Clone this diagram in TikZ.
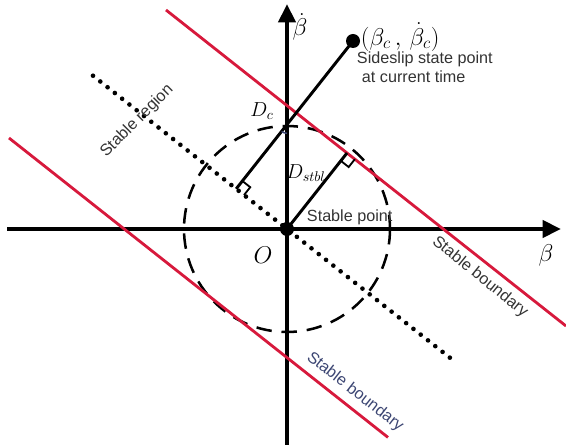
\documentclass[tikz,border=0pt]{standalone}
\usepackage{fontspec}
\setsansfont{Liberation Sans}
\usepackage{amsmath}
\usetikzlibrary{arrows.meta, calc}
\definecolor{bndred}{RGB}{215,25,60}
\definecolor{bndblue}{RGB}{60,70,115}

\begin{document}
\begin{tikzpicture}[x=0.025cm, y=-0.025cm,
  axis/.style={line width=2.8pt, -{Triangle[length=13pt,width=12pt]}},
  boundary/.style={bndred, line width=2pt},
  dist/.style={line width=2.1pt},
  rmark/.style={line width=1.3pt},
  lbl/.style={font=\sffamily\fontsize{11.5}{13}\selectfont, text=black!80},
  mlbl/.style={font=\LARGE}]

  \useasboundingbox (0,0) rectangle (566,445);

  \def\m{0.79}

  % Key points
  \coordinate (O) at (287,229);
  \coordinate (hL) at (7,229);
  \coordinate (hR) at (561,229);
  \coordinate (vB) at (287,445);
  \coordinate (vT) at (287,4);
  \coordinate (uA) at (166,10);
  \coordinate (uB) at (566,{10+400*\m});
  \coordinate (lA) at (9,138);
  \coordinate (lB) at (388,{138+379*\m});
  \coordinate (dA) at (93,{229-194*\m});
  \coordinate (dB) at (455,{229+168*\m});
  \coordinate (P) at (353,41);
  \coordinate (F1) at ($(dA)!(P)!(dB)$);
  \coordinate (F2) at ($(uA)!(O)!(uB)$);
  \coordinate (X) at (intersection of P--F1 and O--vT);

  % Stable region and circle
  \draw[line width=3.3pt, line cap=round, dash pattern=on 0pt off 6.6pt] (dA) -- (dB);
  \draw[line width=1.8pt, dash pattern=on 11pt off 7pt] (O) circle[radius=103];

  % Axes
  \draw[axis] (hL) -- (hR);
  \draw[axis] (vB) -- (vT);

  % Boundaries
  \draw[boundary] (uA) -- (uB);
  \draw[boundary] (lA) -- (lB);

  % Distances
  \draw[dist] (P) -- (F1);
  \draw[dist] (O) -- (F2);
  \fill (P) circle[radius=7];
  \fill (O) circle[radius=7];

  % Right angle marks
  \coordinate (a1) at ($(F1)!0.25cm!(P)$);
  \coordinate (b1) at ($(F1)!0.25cm!(dB)$);
  \draw[rmark] (a1) -- ($(a1)+(b1)-(F1)$) -- (b1);
  \coordinate (a2) at ($(F2)!0.25cm!(O)$);
  \coordinate (b2) at ($(F2)!0.25cm!(uB)$);
  \draw[rmark] (a2) -- ($(a2)+(b2)-(F2)$) -- (b2);
  \draw[bndblue, line width=1pt] (X) ++(231.7:0.22cm) arc[start angle=231.7, end angle=270, radius=0.22cm];

  % Labels
  \node[mlbl] (bdot) at (300,27) {$\dot{\beta}$};
  \node[mlbl] (beta) at (546,255) {$\beta$};
  \node[mlbl] (orig) at (263,255) {$O$};
  \node[font=\LARGE, anchor=west] (pc) at (356,37) {$(\beta_c\,,\,\dot{\beta}_c)$};
  \node[lbl, anchor=west] (pt1) at (352,59) {Sideslip state point};
  \node[lbl, anchor=west] (pt2) at (357,77) {at current time};
  \node[font=\Large] (dc) at (262,111) {$D_c$};
  \node[font=\Large] (ds) at (306,173) {$D_{stbl}$};
  \node[lbl, anchor=west] (sp) at (302,217) {Stable point};
  \node[lbl, rotate=45] (sr) at (137,121) {Stable region};
  \node[lbl, rotate=-39] (sb1) at (480,277) {Stable boundary};
  \node[lbl, rotate=-38, text=bndblue] (sb2) at (355,392) {Stable boundary};

\end{tikzpicture}
\end{document}
